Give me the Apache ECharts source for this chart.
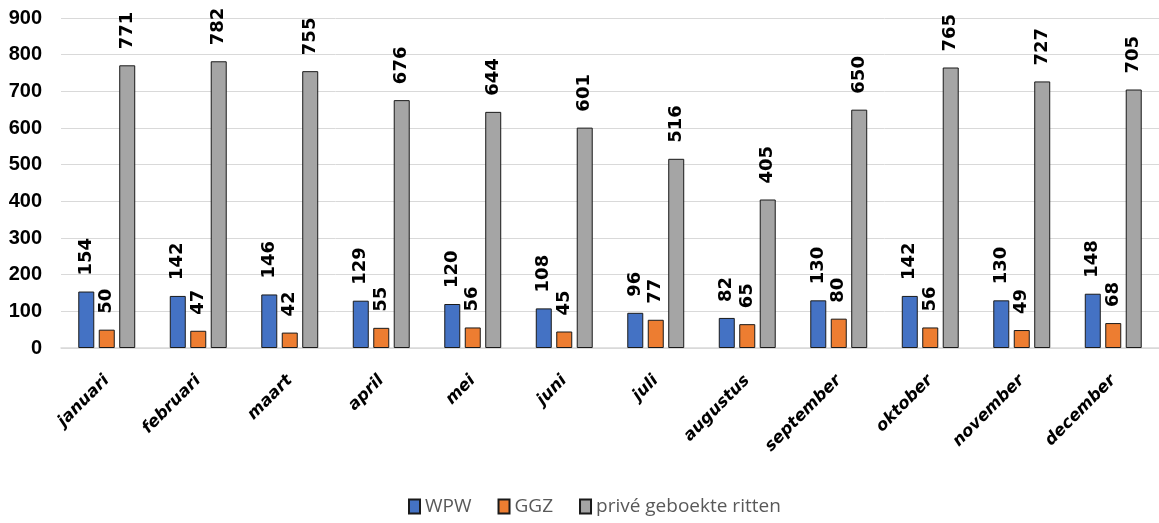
<!DOCTYPE html>
<html><head><meta charset="utf-8">
<script src="https://cdn.jsdelivr.net/npm/echarts@6/dist/echarts.min.js"></script>
<style>html,body{margin:0;padding:0;background:#fff}#c{width:1159px;height:523px}</style>
</head><body><div id="c"></div>
<script>
const categories = ['januari','februari','maart','april','mei','juni','juli','augustus','september','oktober','november','december'];
const wpw = [154,142,146,129,120,108,96,82,130,142,130,148];
const ggz = [50,47,42,55,56,45,77,65,80,56,49,68];
const prive = [771,782,755,676,644,601,516,405,650,765,727,705];
const yTicks = [0,100,200,300,400,500,600,700,800,900];

const chart = echarts.init(document.getElementById('c'));
const lbl = {show:true, position:'top', rotate:90, align:'left', verticalAlign:'middle', distance:16,
  fontFamily:'DejaVu Sans', fontWeight:'bold', fontSize:18, color:'#000'};
function s(name, data, color){
  return {name, type:'bar', data, barWidth:16, barGap:'28%',
    itemStyle:{color, borderColor:'#1a1a1a', borderWidth:1}, label:lbl};
}
chart.setOption({
  animation:false,
  grid:{left:61, right:0, top:18, bottom:175, containLabel:false},
  legend:{bottom:2, left:403, itemWidth:11, itemHeight:14, itemGap:26,
    textStyle:{fontFamily:'Open Sans', fontSize:19, color:'#595959'},
    data:['WPW','GGZ','privé geboekte ritten'], icon:'rect'},
  xAxis:{type:'category', data:categories,
    axisLine:{lineStyle:{color:'#d9d9d9', width:1.5}}, axisTick:{show:false},
    axisLabel:{rotate:45, interval:0, margin:30, fontFamily:'DejaVu Sans', fontWeight:'bold', fontStyle:'italic', fontSize:16.5, color:'#000'}},
  yAxis:{type:'value', min:yTicks[0], max:yTicks[yTicks.length-1], interval:100,
    axisLine:{show:false}, axisTick:{show:false},
    splitLine:{lineStyle:{color:'#d9d9d9', width:1}},
    axisLabel:{margin:19, fontFamily:'Liberation Sans', fontWeight:'bold', fontSize:20, color:'#000'}},
  series:[s('WPW',wpw,'#4472C4'), s('GGZ',ggz,'#ED7D31'), s('privé geboekte ritten',prive,'#A5A5A5')]
});
</script></body></html>
